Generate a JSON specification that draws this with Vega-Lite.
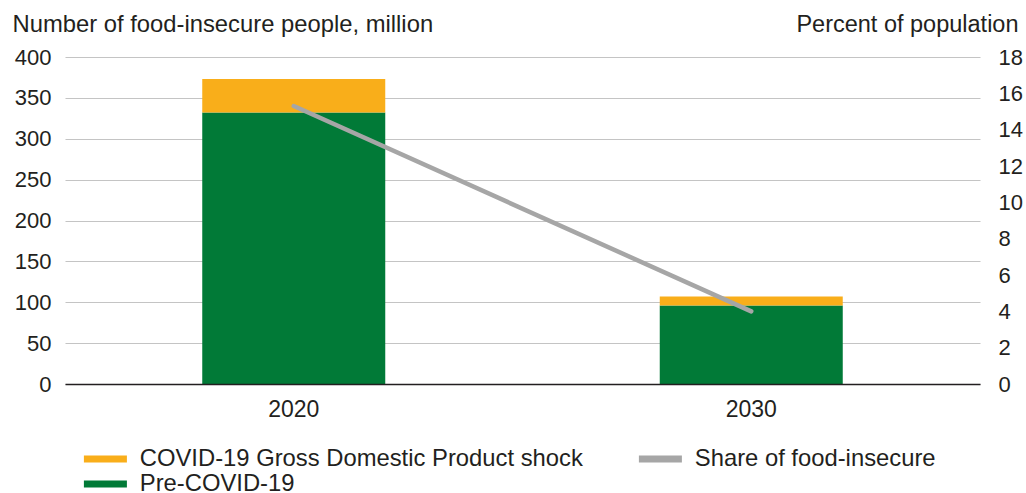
{
  "$schema": "https://vega.github.io/schema/vega-lite/v6.json",
  "width": 915,
  "height": 327,
  "autosize": {"type": "none"},
  "padding": {"left": 65, "top": 57, "right": 46, "bottom": 109},
  "background": "white",
  "config": {
    "view": {"stroke": null},
    "font": "Liberation Sans",
    "axis": {"labelColor": "#231F20", "titleColor": "#231F20", "labelFont": "Liberation Sans", "titleFont": "Liberation Sans", "titleFontWeight": "normal"},
    "legend": {"labelColor": "#231F20", "labelFont": "Liberation Sans"}
  },
  "datasets": {
    "bars": [
      {"year": "2020", "series": "Pre-COVID-19", "value": 332},
      {"year": "2020", "series": "COVID-19 Gross Domestic Product shock", "value": 41},
      {"year": "2030", "series": "Pre-COVID-19", "value": 96},
      {"year": "2030", "series": "COVID-19 Gross Domestic Product shock", "value": 11}
    ],
    "share": [
      {"year": "2020", "series": "Share of food-insecure", "share": 15.3},
      {"year": "2030", "series": "Share of food-insecure", "share": 4.0}
    ]
  },
  "layer": [
    {
      "data": {"name": "bars"},
      "mark": {"type": "bar"},
      "encoding": {
        "x": {
          "field": "year", "type": "nominal",
          "scale": {"paddingInner": 0.6, "paddingOuter": 0.3},
          "axis": {"title": null, "labelAngle": 0, "ticks": false, "domain": true, "domainColor": "#231F20", "domainWidth": 1.5, "labelPadding": 14, "labelFontSize": 23, "zindex": 1}
        },
        "y": {
          "field": "value", "type": "quantitative", "stack": "zero",
          "scale": {"domain": [0, 400], "nice": false},
          "axis": {
            "values": [0, 50, 100, 150, 200, 250, 300, 350, 400],
            "title": "Number of food-insecure people, million",
            "titleAngle": 0, "titleAlign": "left", "titleBaseline": "alphabetic",
            "titleX": -53, "titleY": -26, "titleFontSize": 23.8,
            "labelFontSize": 22, "labelPadding": 14,
            "ticks": false, "domain": false,
            "grid": true, "gridColor": "#C4C4C4", "gridWidth": 1.2
          }
        },
        "color": {
          "field": "series", "type": "nominal",
          "scale": {
            "domain": ["COVID-19 Gross Domestic Product shock", "Share of food-insecure", "Pre-COVID-19"],
            "range": ["#F9AE1A", "#A6A6A6", "#017A37"]
          },
          "legend": {
            "title": null, "orient": "none", "legendX": 28.5, "legendY": 390,
            "direction": "horizontal", "columns": 2, "columnPadding": 55, "rowPadding": 0,
            "padding": 0, "labelFontSize": 23.8, "labelLimit": 800, "labelOffset": 22.5,
            "symbolType": "M-2.15,-0.35H2.15V0.35H-2.15Z", "symbolSize": 400,
            "symbolStrokeWidth": 0, "symbolOpacity": 1
          }
        },
        "order": {"field": "series", "sort": "descending"}
      }
    },
    {
      "data": {"name": "share"},
      "mark": {"type": "line", "strokeWidth": 4.5, "strokeCap": "round"},
      "encoding": {
        "x": {"field": "year", "type": "nominal"},
        "y": {
          "field": "share", "type": "quantitative",
          "scale": {"domain": [0, 18], "nice": false},
          "axis": {
            "orient": "right",
            "values": [0, 2, 4, 6, 8, 10, 12, 14, 16, 18],
            "title": "Percent of population",
            "titleAngle": 0, "titleAlign": "right", "titleBaseline": "alphabetic",
            "titleX": 38, "titleY": -26, "titleFontSize": 23.5,
            "labelFontSize": 22, "labelPadding": 18, "labelAlign": "left",
            "ticks": false, "domain": false, "grid": false
          }
        },
        "color": {"field": "series", "type": "nominal"}
      }
    }
  ],
  "resolve": {"scale": {"y": "independent"}}
}
